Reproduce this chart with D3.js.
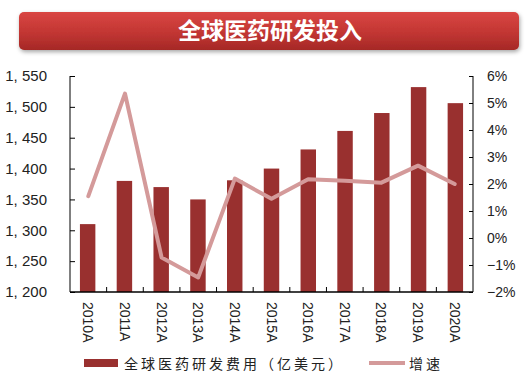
<!DOCTYPE html>
<html>
<head>
<meta charset="utf-8">
<script src="https://cdn.jsdelivr.net/npm/d3@7"></script>
<style>
  body { margin: 0; background: #fff; }
  text { font-family: "Liberation Sans", Arial, sans-serif; }
</style>
</head>
<body>
<div id="chart"></div>
<script>
const years = ["2010A", "2011A", "2012A", "2013A", "2014A", "2015A", "2016A", "2017A", "2018A", "2019A", "2020A"];
const spending = [1310, 1380, 1370, 1350, 1381, 1400, 1431, 1461, 1490, 1532, 1506];
const growth = [1.55, 5.35, -0.72, -1.46, 2.2, 1.45, 2.18, 2.12, 2.05, 2.68, 2.0];
const leftTicks = [1200, 1250, 1300, 1350, 1400, 1450, 1500, 1550];
const rightTicks = [-2, -1, 0, 1, 2, 3, 4, 5, 6];

const W = 527, H = 382;
const plot = { left: 70, right: 473, top: 76, bottom: 292 };

const svg = d3.select("#chart").append("svg")
    .attr("width", W)
    .attr("height", H);

const defs = svg.append("defs");
const grad = defs.append("linearGradient")
    .attr("id", "titleGrad")
    .attr("x1", 0).attr("y1", 0).attr("x2", 0).attr("y2", 1);
grad.append("stop").attr("offset", "0%").attr("stop-color", "#d94542");
grad.append("stop").attr("offset", "55%").attr("stop-color", "#c23633");
grad.append("stop").attr("offset", "100%").attr("stop-color", "#a52826");

const shadow = defs.append("filter").attr("id", "shadow")
    .attr("x", "-5%").attr("y", "-20%").attr("width", "110%").attr("height", "160%");
shadow.append("feDropShadow")
    .attr("dx", 1).attr("dy", 2).attr("stdDeviation", 2)
    .attr("flood-color", "#000").attr("flood-opacity", 0.35);

// Title banner
svg.append("rect")
    .attr("x", 19).attr("y", 12)
    .attr("width", 500).attr("height", 38)
    .attr("rx", 5)
    .attr("fill", "url(#titleGrad)")
    .attr("filter", "url(#shadow)");

svg.append("text")
    .attr("x", 270).attr("y", 39)
    .attr("text-anchor", "middle")
    .style("font-family", "'Noto Sans CJK SC', sans-serif")
    .style("font-weight", "bold")
    .style("font-size", "23px")
    .attr("fill", "#fff")
    .text("全球医药研发投入");

// Scales
const x = d3.scaleBand()
    .domain(years)
    .range([plot.left, plot.right])
    .paddingInner(0.58)
    .paddingOuter(0.27);

const xCat = d3.scaleBand()
    .domain(years)
    .range([plot.left, plot.right]);

const yLeft = d3.scaleLinear()
    .domain([1200, 1550])
    .range([plot.bottom, plot.top]);

const yRight = d3.scaleLinear()
    .domain([-2, 6])
    .range([plot.bottom, plot.top]);

// Bars
svg.selectAll(".bar")
    .data(years)
    .enter().append("rect")
    .attr("class", "bar")
    .attr("x", d => x(d))
    .attr("y", (d, i) => yLeft(spending[i]))
    .attr("width", x.bandwidth())
    .attr("height", (d, i) => plot.bottom - yLeft(spending[i]))
    .attr("fill", "#99302f");

// Growth line
const line = d3.line()
    .x((d, i) => xCat(years[i]) + xCat.bandwidth() / 2)
    .y(d => yRight(d));

svg.append("path")
    .datum(growth)
    .attr("d", line)
    .attr("fill", "none")
    .attr("stroke", "#d49a9a")
    .attr("stroke-width", 4)
    .attr("stroke-linejoin", "round")
    .attr("stroke-linecap", "round");

// Left axis
const leftAxis = svg.append("g")
    .attr("transform", `translate(${plot.left},0)`)
    .call(d3.axisRight(yLeft).tickValues(leftTicks).tickSize(5).tickFormat(d3.format(",")));
leftAxis.select(".domain").attr("d", `M0,${plot.top}V${plot.bottom}`).attr("stroke", "#000");
leftAxis.selectAll("text")
    .attr("x", -23)
    .attr("text-anchor", "end")
    .style("font-size", "15px")
    .attr("fill", "#222")
    .text(d => d3.format(",")(d).replace(",", ", "));

// Right axis
const rightAxis = svg.append("g")
    .attr("transform", `translate(${plot.right},0)`)
    .call(d3.axisLeft(yRight).tickValues(rightTicks).tickSize(4).tickFormat(d => (d < 0 ? "\u2212" + Math.abs(d) : d) + "%"));
rightAxis.select(".domain").attr("d", `M0,${plot.top}V${plot.bottom}`).attr("stroke", "#000");
rightAxis.selectAll("text")
    .attr("x", 14)
    .attr("text-anchor", "start")
    .style("font-size", "14px")
    .attr("fill", "#222");

// Bottom axis
const bottomAxis = svg.append("g")
    .attr("transform", `translate(0,${plot.bottom})`)
    .call(d3.axisTop(xCat).tickSize(0).tickFormat(""));
bottomAxis.select(".domain").attr("d", `M${plot.left},0H${plot.right}`).attr("stroke", "#000").attr("stroke-width", 1.5);

svg.append("g")
    .selectAll("line")
    .data(years.slice(1))
    .enter().append("line")
    .attr("x1", d => xCat(d)).attr("x2", d => xCat(d))
    .attr("y1", plot.bottom).attr("y2", plot.bottom - 5)
    .attr("stroke", "#000");

svg.append("g")
    .selectAll("text")
    .data(years)
    .enter().append("text")
    .attr("transform", d => `translate(${xCat(d) + xCat.bandwidth() / 2 - 5},${plot.bottom + 10}) rotate(90)`)
    .attr("text-anchor", "start")
    .style("font-size", "14px")
    .attr("fill", "#222")
    .text(d => d);

// Legend
const legend = svg.append("g").attr("transform", "translate(0,363)");
legend.append("rect")
    .attr("x", 84).attr("y", -4)
    .attr("width", 34).attr("height", 8)
    .attr("fill", "#99302f");
legend.append("text")
    .attr("x", 124).attr("y", 6)
    .style("font-family", "'Noto Sans CJK SC', sans-serif")
    .style("font-size", "14px")
    .style("letter-spacing", "3px")
    .attr("fill", "#222")
    .text("全球医药研发费用（亿美元）");
legend.append("line")
    .attr("x1", 369).attr("x2", 405)
    .attr("y1", 0).attr("y2", 0)
    .attr("stroke", "#d49a9a")
    .attr("stroke-width", 4);
legend.append("text")
    .attr("x", 409).attr("y", 6)
    .style("font-family", "'Noto Sans CJK SC', sans-serif")
    .style("font-size", "14px")
    .style("letter-spacing", "3px")
    .attr("fill", "#222")
    .text("增速");
</script>
</body>
</html>
